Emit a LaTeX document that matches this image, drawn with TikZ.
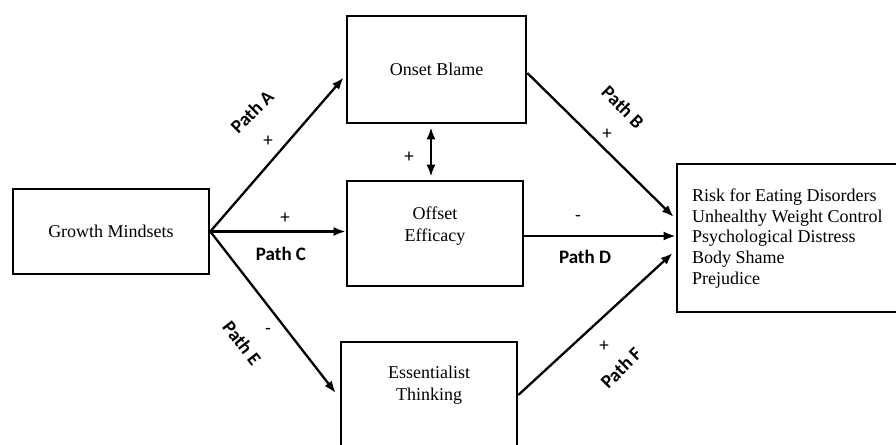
\documentclass[tikz,border=0pt]{standalone}
\usepackage{fontspec}
\setmainfont{Liberation Serif}
\newfontfamily\carlito{Carlito}
\usetikzlibrary{arrows.meta,calc}
\begin{document}
\begin{tikzpicture}[x=1pt,y=-1pt,
  box/.style={draw,line width=2.6pt,inner sep=0pt,font=\fontsize{18}{21}\selectfont},
  conn/.style={line width=2.3pt,-{Latex[length=12pt,width=9pt]}},
  bidir/.style={line width=2.3pt,{Latex[length=12pt,width=9pt]}-{Latex[length=12pt,width=9pt]}},
  pathlbl/.style={font=\carlito\bfseries\fontsize{19}{22}\selectfont,inner sep=0pt},
  sign/.style={font=\carlito\fontsize{19}{21}\selectfont,inner sep=0pt},
  txt/.style={align=center,inner sep=0pt,font=\fontsize{18}{21.5}\selectfont}]
\useasboundingbox (0,0) rectangle (896,444);
\clip (0,0) rectangle (896,444);
\node[box,minimum width=196pt,minimum height=85pt] (gm) at (111,231.5) {Growth Mindsets};
\node[box,minimum width=179pt,minimum height=107pt] (ob) at (436.5,69.5) {Onset Blame};
\node[box,minimum width=176pt,minimum height=105pt] (of) at (435,233.5) {};
\node[txt] (oft) at (435,226) {Offset\\Efficacy};
\node[box,minimum width=176pt,minimum height=106pt] (es) at (429,395) {};
\node[txt] (est) at (429,385) {Essentialist\\Thinking};
\node[box,minimum width=230pt,minimum height=148pt] (out) at (792,238) {};
\node[align=left,anchor=west,inner sep=0pt,font=\fontsize{18}{20.7}\selectfont] (outt) at (692,238.5)
  {Risk for Eating Disorders\\Unhealthy Weight Control\\Psychological Distress\\Body Shame\\Prejudice};
% connectors
\draw[conn] (gm.east) -- ($(ob.west)+(-2,8)$);
\draw[conn] (gm.east) -- (of.west |- gm.east);
\draw[conn] (gm.east) -- ($(es.west)+(-4,-2)$);
\coordinate (bt) at ($(ob.south)+(-5.5,3)$);
\coordinate (bb) at ($(bt |- of.north)+(0,-3)$);
\draw[bidir] (bt) -- (bb);
\draw[conn] ($(ob.east)+(0,3.5)$) -- ($(out.west)+(-2,-21)$);
\coordinate (ds) at ($(of.east)+(0,2.5)$);
\draw[conn] (ds) -- (ds -| out.west);
\draw[conn] (es.east) -- ($(out.west)+(-3,15)$);
% labels
\node[pathlbl,rotate=45] (la) at (252,112) {Path A};
\node[sign] (pa) at (268,141) {+};
\node[sign] (pbd) at (409,157) {+};
\node[sign] (pc) at (285,218) {+};
\node[pathlbl] (lc) at (281,254) {Path C};
\node[pathlbl,rotate=-45] (lb) at (623,107) {Path B};
\node[sign] (pb) at (607,134) {+};
\node[sign] (md) at (578,218) {-};
\node[pathlbl] (ld) at (585,257) {Path D};
\node[pathlbl,rotate=45] (lf) at (621,368) {Path F};
\node[sign] (pf) at (604,346) {+};
\node[pathlbl,rotate=-52] (le) at (242,343) {Path E};
\node[sign] (me) at (268,331) {-};
\end{tikzpicture}
\end{document}
